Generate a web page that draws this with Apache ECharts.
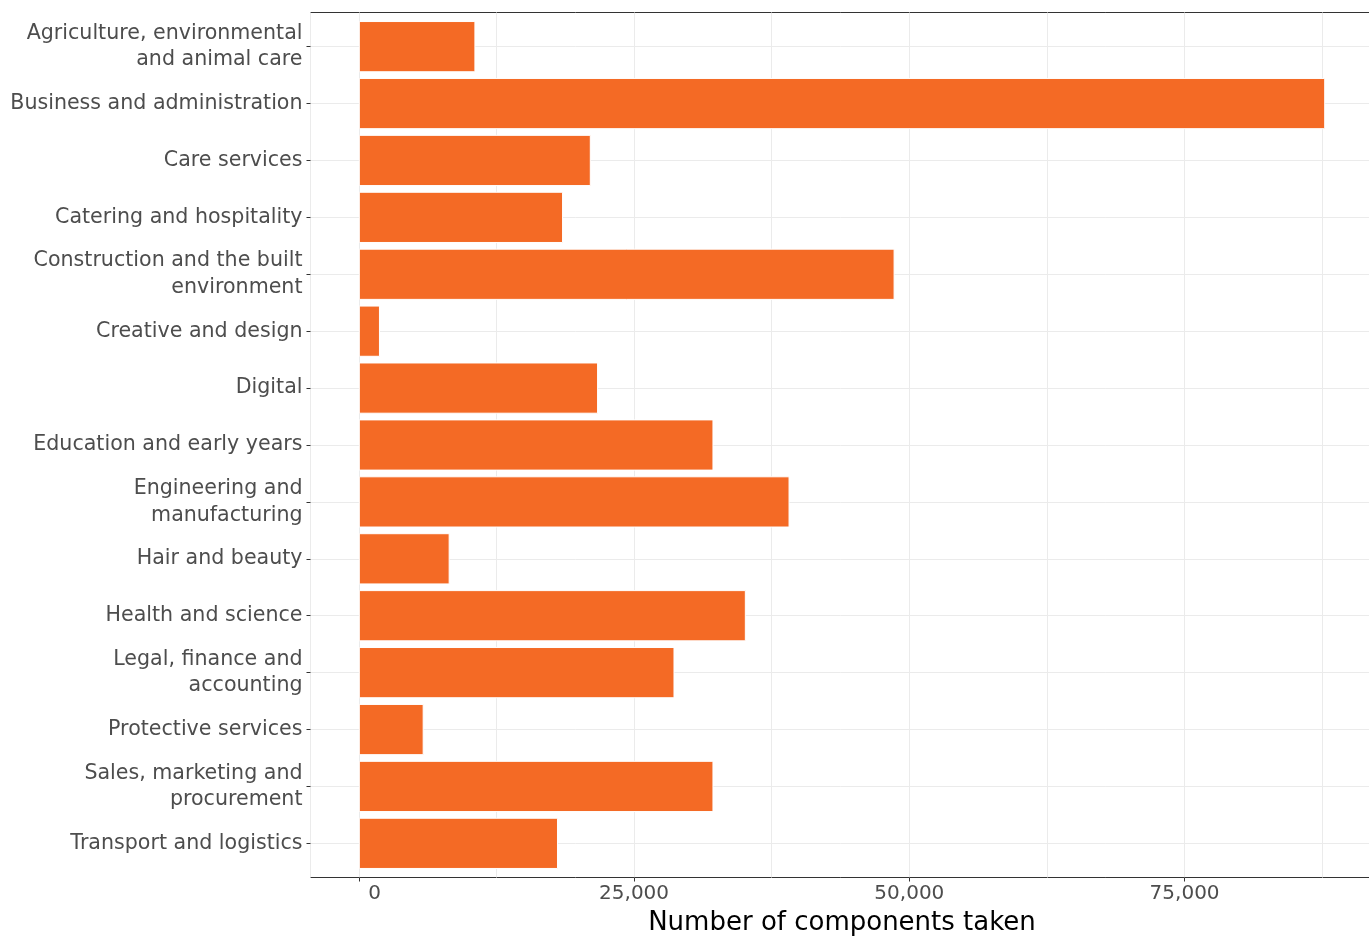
<!DOCTYPE html>
<html>
<head>
<meta charset="utf-8">
<script src="https://cdn.jsdelivr.net/npm/echarts@6/dist/echarts.min.js"></script>
<style>
html,body{margin:0;padding:0;background:#fff;}
#chart{width:1369px;height:937px;}
</style>
</head>
<body>
<div id="chart"></div>
<script>
const categories = [
  "Agriculture, environmental\nand animal care",
  "Business and administration",
  "Care services",
  "Catering and hospitality",
  "Construction and the built\nenvironment",
  "Creative and design",
  "Digital",
  "Education and early years",
  "Engineering and\nmanufacturing",
  "Hair and beauty",
  "Health and science",
  "Legal, finance and\naccounting",
  "Protective services",
  "Sales, marketing and\nprocurement",
  "Transport and logistics"
];
const components = [10590, 87770, 21070, 18550, 48660, 1920, 21730, 32210, 39120, 8250, 35150, 28670, 5890, 32210, 18090];
const xTicks = [0, 25000, 50000, 75000];
const xMin = -4388, xMax = 92156;
const xTitle = "Number of components taken";

const FONT = "DejaVu Sans";
const PANEL_LEFT = 310.5, PANEL_TOP = 12.5, PANEL_W = 1063, PANEL_H = 865;
const unit = PANEL_H / (categories.length + 0.2);

const chart = echarts.init(document.getElementById('chart'), null, {renderer: 'canvas'});
const fmt = v => v.toString().replace(/\B(?=(\d{3})+(?!\d))/g, ',');
const tickLabels = xTicks.map(fmt);
const labelWidth = Math.max(...tickLabels.map(s => s.length));
const padLabel = v => fmt(v).padStart(labelWidth, ' ');

chart.setOption({
  backgroundColor: '#ffffff',
  animation: false,
  grid: [
    {left: PANEL_LEFT, top: PANEL_TOP, width: PANEL_W, height: PANEL_H, show: true,
     borderColor: '#333333', borderWidth: 1, backgroundColor: '#ffffff', containLabel: false, outerBoundsMode: 'none'},
    {left: PANEL_LEFT, top: PANEL_TOP + 0.6 * unit, width: PANEL_W, height: (categories.length - 1) * unit,
     show: false, containLabel: false, outerBoundsMode: 'none'}
  ],
  xAxis: [
    {gridIndex: 0, type: 'value', min: xMin, max: xMax, minInterval: 12500, maxInterval: 12500,
     axisLine: {show: false}, axisTick: {show: false}, axisLabel: {show: false},
     splitLine: {show: true, lineStyle: {color: '#ebebeb', width: 1}}},
    {gridIndex: 0, type: 'value', min: xMin, max: xMax, position: 'bottom',
     axisLine: {show: false, onZero: false},
     axisTick: {show: true, customValues: xTicks, length: 4, lineStyle: {color: '#333333', width: 1}},
     axisLabel: {show: true, customValues: xTicks, formatter: v => padLabel(v), color: '#4d4d4d',
                 fontSize: 20, fontFamily: FONT, margin: 6},
     splitLine: {show: false},
     name: xTitle, nameLocation: 'middle', nameGap: 33,
     nameTextStyle: {fontSize: 26, fontFamily: FONT, color: '#000000'}},
    {gridIndex: 1, type: 'value', min: xMin, max: xMax, show: false}
  ],
  yAxis: [
    {gridIndex: 0, type: 'value', min: 0, max: 1, show: false},
    {gridIndex: 1, type: 'category', inverse: true, boundaryGap: false, data: categories,
     axisLine: {show: false, onZero: false},
     axisTick: {show: true, interval: 0, length: 4, lineStyle: {color: '#333333', width: 1}},
     axisLabel: {show: true, interval: 0, color: '#4d4d4d', fontSize: 20.6, fontFamily: FONT,
                 lineHeight: 26.5, margin: 8, align: 'right', padding: [4, 0, 0, 0]},
     splitLine: {show: true, interval: 0, lineStyle: {color: '#ebebeb', width: 1}}}
  ],
  series: [{
    type: 'bar', xAxisIndex: 2, yAxisIndex: 1, data: components, barWidth: '90%', clip: false,
    itemStyle: {color: '#F46A25', borderColor: '#ffffff', borderWidth: 1},
    emphasis: {disabled: true}
  }]
});
</script>
</body>
</html>
